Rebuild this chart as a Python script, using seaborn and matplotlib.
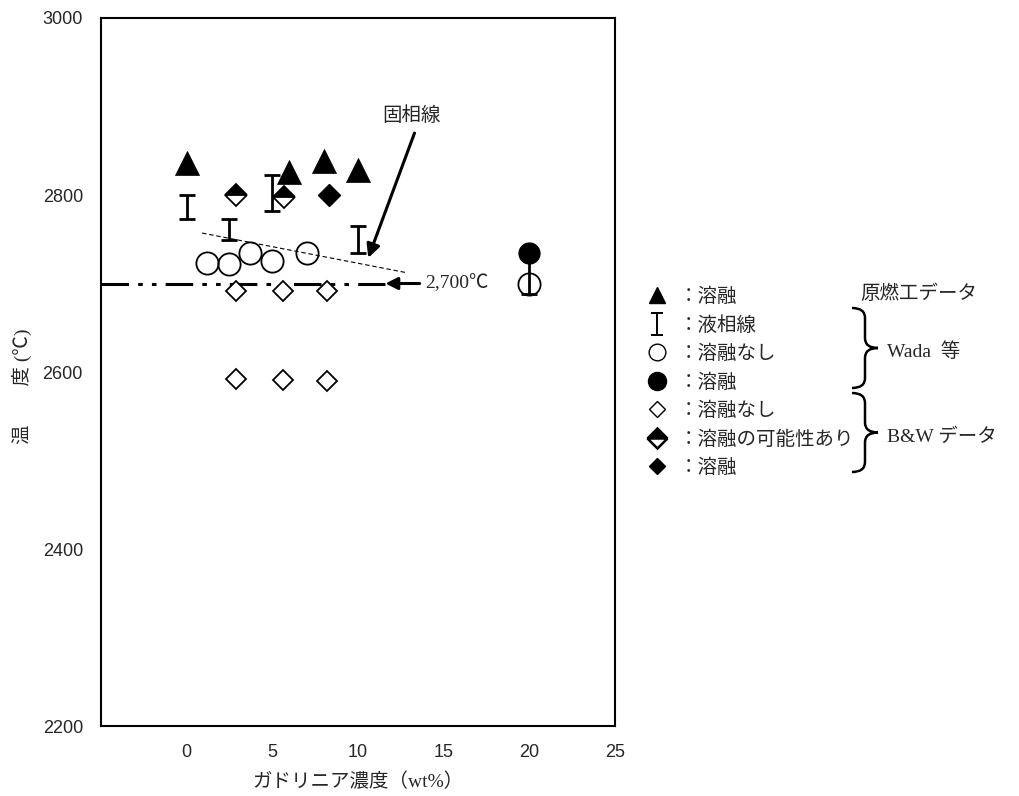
import numpy as np
import pandas as pd
import seaborn as sns
import matplotlib.pyplot as plt
from matplotlib.lines import Line2D
from matplotlib.path import Path
from matplotlib.patches import PathPatch

# ---- data ----
# 原燃工データ : melted (triangles)
tri_x = [0, 6, 8, 10]
tri_y = [2836, 2826, 2838, 2828]

# 液相線 (liquidus, shown as I-bars)
liq_x = [0, 2.5, 5, 10, 20]
liq_lo = [2773, 2749, 2782, 2734, 2688]
liq_hi = [2800, 2773, 2823, 2765, 2729]

# Wada 等 : no melting (open circles) / melted (filled circle)
wada_open_x = [1.2, 2.5, 3.7, 5.0, 7.0, 20]
wada_open_y = [2723, 2722, 2734, 2725, 2734, 2700]
wada_melt_x = [20]
wada_melt_y = [2734]

# B&W データ
bw_open_x = [2.9, 5.6, 8.2, 2.9, 5.6, 8.2]
bw_open_y = [2692, 2691, 2691, 2592, 2591, 2590]
bw_maybe_x = [2.9, 5.7]
bw_maybe_y = [2800, 2798]
bw_melt_x = [8.3]
bw_melt_y = [2800]

# 固相線 (solidus, thin dashed line)
sol_x = [0.9, 12.9]
sol_y = [2757, 2712]

ref_temp = 2700
ref_x = [-5, 11.6]

sns.set_style("white")
plt.rcParams['font.family'] = ['Liberation Serif', 'Noto Sans CJK JP', 'DejaVu Sans']
jp = ['Liberation Serif', 'Noto Sans CJK JP', 'DejaVu Sans']

fig = plt.figure(figsize=(10.19, 7.96), dpi=100)
ax = fig.add_axes([0.0991, 0.0879, 0.5044, 0.8895])

# reference line 2,700 degC (dash-dot-dot)
ax.plot(ref_x, [ref_temp, ref_temp], color='black', lw=2.2,
        dashes=[9, 3, 1.5, 3, 1.5, 3])
ax.annotate('', xy=(ref_x[1], ref_temp), xytext=(13.6, ref_temp),
            arrowprops=dict(arrowstyle='-|>', color='black', lw=2.2,
                            mutation_scale=18, shrinkA=0, shrinkB=0))
ax.text(13.9, ref_temp, '2,700℃', fontsize=14, va='center', ha='left',
        family=jp)

# solidus
sol = pd.DataFrame({'x': sol_x, 'y': sol_y})
sns.lineplot(data=sol, x='x', y='y', ax=ax, color='black', lw=0.8,
             linestyle=(0, (4, 2.5)))
ax.annotate('', xy=(10.6, 2729), xytext=(13.3, 2870),
            arrowprops=dict(arrowstyle='-|>', color='black', lw=2.2,
                            mutation_scale=20, shrinkA=0, shrinkB=0))
ax.text(13.1, 2890, '固相線', fontsize=14, ha='center', va='center',
        family=jp)

# liquidus I-bars
liq_c = [(a + b) / 2 for a, b in zip(liq_lo, liq_hi)]
liq_e = [(b - a) / 2 for a, b in zip(liq_lo, liq_hi)]
ax.errorbar(liq_x, liq_c, yerr=liq_e, fmt='none', ecolor='black',
            elinewidth=2, capsize=6, capthick=2)

# markers
sns.scatterplot(x=tri_x, y=tri_y, ax=ax, marker='^', s=300, color='black',
                edgecolor='black', linewidth=0.5)
ax.plot(wada_open_x, wada_open_y, 'o', ms=16, mfc='none', mec='black', mew=1.3)
ax.plot(wada_melt_x, wada_melt_y, 'o', ms=15, color='black')
ax.plot(bw_open_x, bw_open_y, 'D', ms=10, mfc='white', mec='black', mew=1.3)
ax.plot(bw_maybe_x, bw_maybe_y, 'D', ms=11, fillstyle='top', mfc='black',
        mfcalt='white', mec='black', mew=1.3)
ax.plot(bw_melt_x, bw_melt_y, 'D', ms=11, color='black')

# axes
ax.set_xlim(-5, 25)
ax.set_ylim(2200, 3000)
ax.set_xticks([0, 5, 10, 15, 20, 25])
ax.set_yticks([2200, 2400, 2600, 2800, 3000])
ax.set_yticks(np.arange(2300, 3000, 100), minor=True)
ax.tick_params(axis='both', which='both', direction='in', length=5,
               color='#999999', width=0.8, labelsize=13)
ax.tick_params(axis='y', which='minor', length=5)
ax.tick_params(axis='x', pad=13)
ax.tick_params(axis='y', pad=13)
for lab in ax.get_xticklabels() + ax.get_yticklabels():
    lab.set_family('Liberation Sans')
for sp in ax.spines.values():
    sp.set_color('black')
    sp.set_linewidth(1.5)
ax.set_xlabel('ガドリニア濃度（wt%）', fontsize=14, family=jp, labelpad=8)
ax.set_ylabel('温　　度 (℃)', fontsize=14, family=jp)
ax.yaxis.set_label_coords(-0.134, 0.48)

# legend
ibeam = Path([(-0.5, 1), (0.5, 1), (0, 1), (0, -1), (-0.5, -1), (0.5, -1)],
             [Path.MOVETO, Path.LINETO, Path.MOVETO, Path.LINETO,
              Path.MOVETO, Path.LINETO])
handles = [
    Line2D([], [], marker='^', ls='none', color='black', ms=12),
    Line2D([], [], marker=ibeam, ls='none', color='black', ms=16, mew=1.4),
    Line2D([], [], marker='o', ls='none', mfc='none', mec='black', ms=12),
    Line2D([], [], marker='o', ls='none', color='black', ms=13),
    Line2D([], [], marker='D', ls='none', mfc='white', mec='black', ms=8),
    Line2D([], [], marker='D', ls='none', fillstyle='top', mfc='black',
           mfcalt='white', mec='black', mew=1.8, ms=10),
    Line2D([], [], marker='D', ls='none', color='black', ms=8),
]
labels = ['：溶融', '：液相線', '：溶融なし', '：溶融', '：溶融なし',
          '：溶融の可能性あり', '：溶融']
leg = fig.legend(handles, labels, loc='upper left',
                 bbox_to_anchor=(0.618, 1 - 270 / 796), frameon=False,
                 handlelength=1.0, handletextpad=0.6, labelspacing=0.52,
                 prop={'family': jp, 'size': 14})

fig.text(860 / 1019, 1 - 294 / 796, '原燃工データ', fontsize=14, family=jp,
         va='center', ha='left')
fig.text(887 / 1019, 1 - 352 / 796, 'Wada  等', fontsize=14, family=jp,
         va='center', ha='left')
fig.text(887 / 1019, 1 - 437 / 796, 'B&W データ', fontsize=14, family=jp,
         va='center', ha='left')


def brace(x0, x1, ytop, ybot):
    # right-pointing curly brace, pixel coords from the top-left
    W, H = 1019, 796
    xm = (x0 + x1) / 2
    ymid = (ytop + ybot) / 2
    r = 10
    pts = [(x0, ytop), (xm, ytop), (xm, ytop + r),
           (xm, ymid - r),
           (xm, ymid), (x1, ymid),
           (x1, ymid),
           (xm, ymid), (xm, ymid + r),
           (xm, ybot - r),
           (xm, ybot), (x0, ybot)]
    codes = [Path.MOVETO, Path.CURVE3, Path.CURVE3,
             Path.LINETO,
             Path.CURVE3, Path.CURVE3,
             Path.MOVETO,
             Path.CURVE3, Path.CURVE3,
             Path.LINETO,
             Path.CURVE3, Path.CURVE3]
    pts = [(x / W, 1 - y / H) for x, y in pts]
    fig.add_artist(PathPatch(Path(pts, codes), transform=fig.transFigure,
                             fill=False, lw=1.8, color='black'))


brace(852, 878, 308, 388)
brace(852, 878, 393, 472)

fig.savefig('out.png', dpi=100)
